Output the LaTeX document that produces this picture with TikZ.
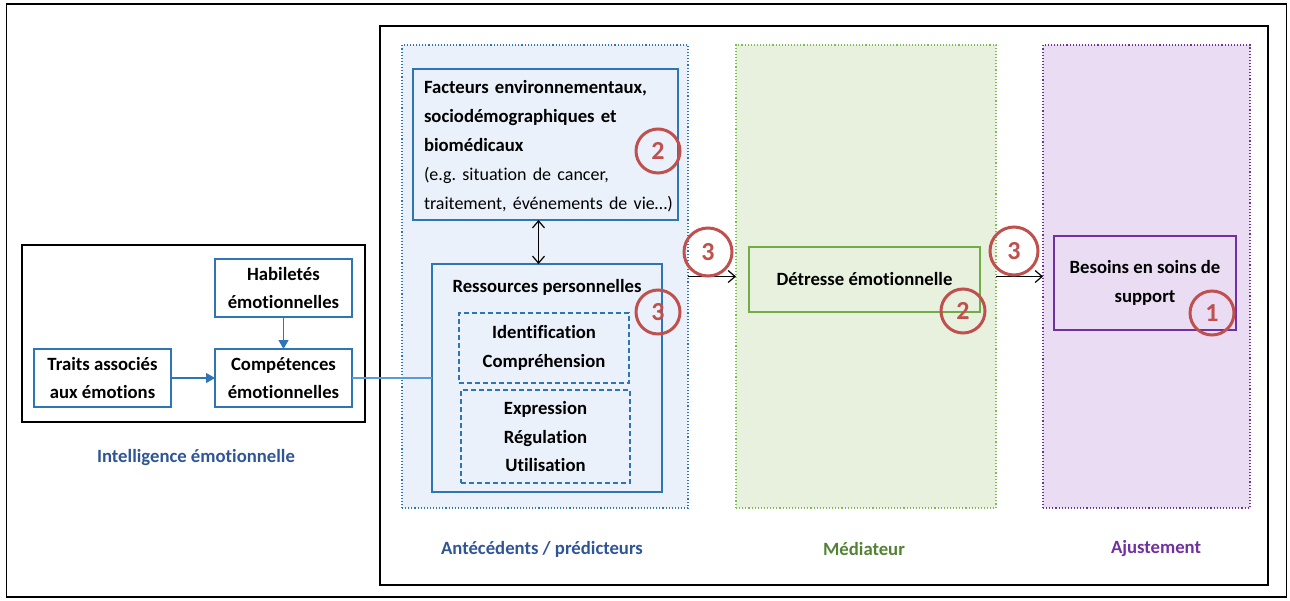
\documentclass[tikz,border=0pt]{standalone}
\usepackage{fontspec}
\setmainfont{Carlito}[Ligatures=NoCommon]
\frenchspacing
\usetikzlibrary{arrows.meta}
\definecolor{bblue}{HTML}{2E75B6}
\definecolor{lineblue}{HTML}{5B9BD5}
\definecolor{bfill}{HTML}{EAF1FA}
\definecolor{gfill}{HTML}{E7F1DE}
\definecolor{gline}{HTML}{7CBF4A}
\definecolor{gbox}{HTML}{70AD47}
\definecolor{pfill}{HTML}{EADDF3}
\definecolor{pline}{HTML}{7030A0}
\definecolor{lblue}{HTML}{2F5597}
\definecolor{lgreen}{HTML}{548235}
\definecolor{cred}{HTML}{C0504D}
\begin{document}
\begin{tikzpicture}[x=1pt,y=-1pt,
  every node/.style={font=\fontsize{18.7}{28.5}\selectfont\bfseries, inner sep=0pt, outer sep=0pt},
  frame/.style={draw=black, line width=1.6pt},
  region/.style={draw, dotted, line width=1.1pt},
  bbox/.style={draw=bblue, line width=1.4pt, align=center},
  dbox/.style={draw=bblue, dash pattern=on 5pt off 3pt, line width=1.3pt, align=center},
  num/.style={circle, draw=cred, line width=3pt, minimum size=44pt, text=cred,
    font=\fontsize{26}{26}\selectfont\bfseries},
  lbl/.style={font=\fontsize{18.7}{20}\selectfont\bfseries},
  blk/.style={-{Straight Barb[length=7pt,width=12pt]}, line width=1.2pt},
  blu/.style={-{Triangle[length=9pt,width=10pt]}, draw=bblue, line width=1.1pt},
]
\useasboundingbox (0,0) rectangle (1290,600);
% outer frame
\node[frame, minimum width=1280pt, minimum height=593pt] (outer) at (646.5,300.5) {};
% inner frame
\node[frame, line width=2pt, minimum width=888pt, minimum height=559pt] (inner) at (824,305.5) {};
% regions
\node[region, draw=bblue, fill=bfill, minimum width=286pt, minimum height=463pt] (blue) at (545,276.5) {};
\node[region, draw=gline, fill=gfill, minimum width=260pt, minimum height=463pt] (green) at (866,276.5) {};
\node[region, draw=pline, fill=pfill, minimum width=207pt, minimum height=463pt] (purple) at (1146.5,276.5) {};
% facteurs
\node[bbox, minimum width=265pt, minimum height=151pt] (fact) at (545.5,144.5) {};
\node[align=left, text width=262pt, anchor=west, font=\fontsize{18.7}{29}\selectfont\bfseries] (factt) at (424,146)
  {Facteurs environnementaux,\\sociodémographiques et\\biomédicaux\\
   {\mdseries\fontsize{18}{29}\selectfont (e.g. situation de cancer,\\traitement, événements de vie…)}};
% ressources
\node[bbox, minimum width=230pt, minimum height=228pt] (ress) at (547,378) {};
\node (resst) at (547,287) {Ressources personnelles};
\node[dbox, minimum width=170pt, minimum height=70pt] (ident) at (544,348) {Identification\\Compréhension};
\node[dbox, minimum width=169pt, minimum height=93pt] (expr) at (545.5,436.5) {Expression\\Régulation\\Utilisation};
% detresse, besoins
\node[draw=gbox, line width=1.4pt, minimum width=231pt, minimum height=65pt] (detr) at (864.5,279.5) {Détresse émotionnelle};
\node[draw=pline, line width=1.4pt, minimum width=182pt, minimum height=94pt, align=center] (bes) at (1145,283) {Besoins en soins de\\support};
% left box
\node[frame, minimum width=343pt, minimum height=177pt] (ie) at (193.5,333.5) {};
\node[bbox, minimum width=137pt, minimum height=58pt] (hab) at (283.5,288) {Habiletés\\émotionnelles};
\node[bbox, minimum width=137pt, minimum height=58pt] (trait) at (102.5,378) {Traits associés\\aux émotions};
\node[bbox, minimum width=137pt, minimum height=58pt] (comp) at (283.5,378) {Compétences\\émotionnelles};
% labels
\node[lbl, text=lblue] (lie) at (196,458) {Intelligence émotionnelle};
\node[lbl, text=lblue] (lant) at (542,549) {Antécédents / prédicteurs};
\node[lbl, text=lgreen] (lmed) at (864,549) {Médiateur};
\node[lbl, text=pline] (laj) at (1156,549) {Ajustement};
% connectors
\draw[blu] (hab) -- (comp);
\draw[blu] (trait) -- (comp);
\draw[draw=lineblue, line width=1.1pt] (comp.east) -- (ress.west);
\draw[{Straight Barb[length=7pt,width=12pt]}-{Straight Barb[length=7pt,width=12pt]}, line width=1.2pt]
  ([xshift=-7pt]fact.south) -- ([xshift=-7pt]fact.south |- ress.north);
\draw[blk] (blue.east) -- (green.west);
\draw[blk] (green.east) -- (purple.west);
% numbers
\node[num] (n1) at (658,151) {2};
\node[num, minimum height=48pt] (n2) at (708,252) {3};
\node[num] (n3) at (658,312) {3};
\node[num] (n4) at (963,311) {2};
\node[num, minimum height=48pt] (n5) at (1014,251) {3};
\node[num] (n6) at (1212,313) {1};
\end{tikzpicture}
\end{document}
